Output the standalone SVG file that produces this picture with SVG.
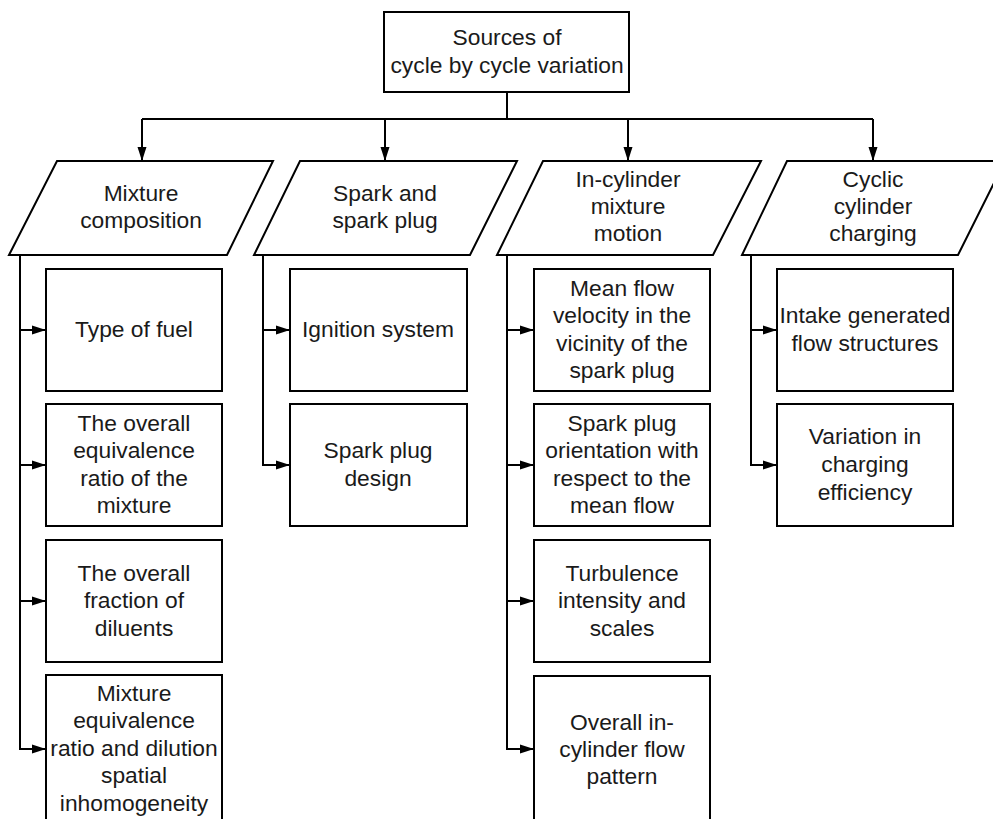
<svg xmlns="http://www.w3.org/2000/svg" width="993" height="819" viewBox="0 0 993 819">
<style>
.n{fill:#fff;stroke:#000;stroke-width:2}
.c{fill:none;stroke:#000;stroke-width:2}
text{font-family:"Liberation Sans",Arial,sans-serif;font-size:22.8px;fill:#1a1a1a;text-anchor:middle}
</style>
<defs>
<marker id="ah" markerUnits="userSpaceOnUse" markerWidth="14" markerHeight="10" refX="14" refY="5" orient="auto">
<path d="M0,0.5 L14,5 L0,9.5 z" fill="#000"/>
</marker>
</defs>
<rect width="993" height="819" fill="#fff"/>
<g id="connectors">
<path class="c" d="M507,92 V119 M142,119 H873"/>
<path class="c" d="M142,119 V161" marker-end="url(#ah)"/>
<path class="c" d="M385,119 V161" marker-end="url(#ah)"/>
<path class="c" d="M628,119 V161" marker-end="url(#ah)"/>
<path class="c" d="M873,119 V161" marker-end="url(#ah)"/>
<path class="c" d="M20,255 V749 H46" marker-end="url(#ah)"/>
<path class="c" d="M20,330 H46" marker-end="url(#ah)"/>
<path class="c" d="M20,465 H46" marker-end="url(#ah)"/>
<path class="c" d="M20,601 H46" marker-end="url(#ah)"/>
<path class="c" d="M263,255 V465 H290" marker-end="url(#ah)"/>
<path class="c" d="M263,330 H290" marker-end="url(#ah)"/>
<path class="c" d="M507,255 V749 H534" marker-end="url(#ah)"/>
<path class="c" d="M507,330 H534" marker-end="url(#ah)"/>
<path class="c" d="M507,465 H534" marker-end="url(#ah)"/>
<path class="c" d="M507,601 H534" marker-end="url(#ah)"/>
<path class="c" d="M751,255 V465 H777" marker-end="url(#ah)"/>
<path class="c" d="M751,330 H777" marker-end="url(#ah)"/>
</g>
<g id="root">
<rect class="n" x="384" y="12" width="245" height="80"/>
<text x="507" y="45">Sources of</text>
<text x="507" y="73">cycle by cycle variation</text>
</g>
<g id="mixture">
<polygon class="n" points="57,161 273,161 227,255 9,255"/>
<text x="141" y="201">Mixture</text>
<text x="141" y="228">composition</text>
</g>
<g id="spark">
<polygon class="n" points="300,161 517,161 470,255 254,255"/>
<text x="385" y="201">Spark and</text>
<text x="385" y="228">spark plug</text>
</g>
<g id="motion">
<polygon class="n" points="543,161 761,161 713,255 497,255"/>
<text x="628" y="187">In-cylinder</text>
<text x="628" y="214">mixture</text>
<text x="628" y="241">motion</text>
</g>
<g id="charging">
<polygon class="n" points="787,161 1005,161 958,255 742,255"/>
<text x="873" y="187">Cyclic</text>
<text x="873" y="214">cylinder</text>
<text x="873" y="241">charging</text>
</g>
<g id="fuel">
<rect class="n" x="46" y="269" width="176" height="122"/>
<text x="134" y="337">Type of fuel</text>
</g>
<g id="equiv">
<rect class="n" x="46" y="404" width="176" height="122"/>
<text x="134" y="431">The overall</text>
<text x="134" y="458">equivalence</text>
<text x="134" y="486">ratio of the</text>
<text x="134" y="513">mixture</text>
</g>
<g id="diluents">
<rect class="n" x="46" y="540" width="176" height="122"/>
<text x="134" y="581">The overall</text>
<text x="134" y="608">fraction of</text>
<text x="134" y="636">diluents</text>
</g>
<g id="inhomog">
<rect class="n" x="46" y="675" width="176" height="150"/>
<text x="134" y="701">Mixture</text>
<text x="134" y="728">equivalence</text>
<text x="134" y="756">ratio and dilution</text>
<text x="134" y="783">spatial</text>
<text x="134" y="811">inhomogeneity</text>
</g>
<g id="ignition">
<rect class="n" x="290" y="269" width="177" height="122"/>
<text x="378" y="337">Ignition system</text>
</g>
<g id="plugdesign">
<rect class="n" x="290" y="404" width="177" height="122"/>
<text x="378" y="458">Spark plug</text>
<text x="378" y="486">design</text>
</g>
<g id="meanflow">
<rect class="n" x="534" y="269" width="176" height="122"/>
<text x="622" y="296">Mean flow</text>
<text x="622" y="323">velocity in the</text>
<text x="622" y="351">vicinity of the</text>
<text x="622" y="378">spark plug</text>
</g>
<g id="orientation">
<rect class="n" x="534" y="404" width="176" height="122"/>
<text x="622" y="431">Spark plug</text>
<text x="622" y="458">orientation with</text>
<text x="622" y="486">respect to the</text>
<text x="622" y="513">mean flow</text>
</g>
<g id="turbulence">
<rect class="n" x="534" y="540" width="176" height="122"/>
<text x="622" y="581">Turbulence</text>
<text x="622" y="608">intensity and</text>
<text x="622" y="636">scales</text>
</g>
<g id="pattern">
<rect class="n" x="534" y="676" width="176" height="150"/>
<text x="622" y="730">Overall in-</text>
<text x="622" y="757">cylinder flow</text>
<text x="622" y="784">pattern</text>
</g>
<g id="intake">
<rect class="n" x="777" y="269" width="176" height="122"/>
<text x="865" y="323">Intake generated</text>
<text x="865" y="351">flow structures</text>
</g>
<g id="efficiency">
<rect class="n" x="777" y="404" width="176" height="122"/>
<text x="865" y="444">Variation in</text>
<text x="865" y="472">charging</text>
<text x="865" y="500">efficiency</text>
</g>
</svg>
